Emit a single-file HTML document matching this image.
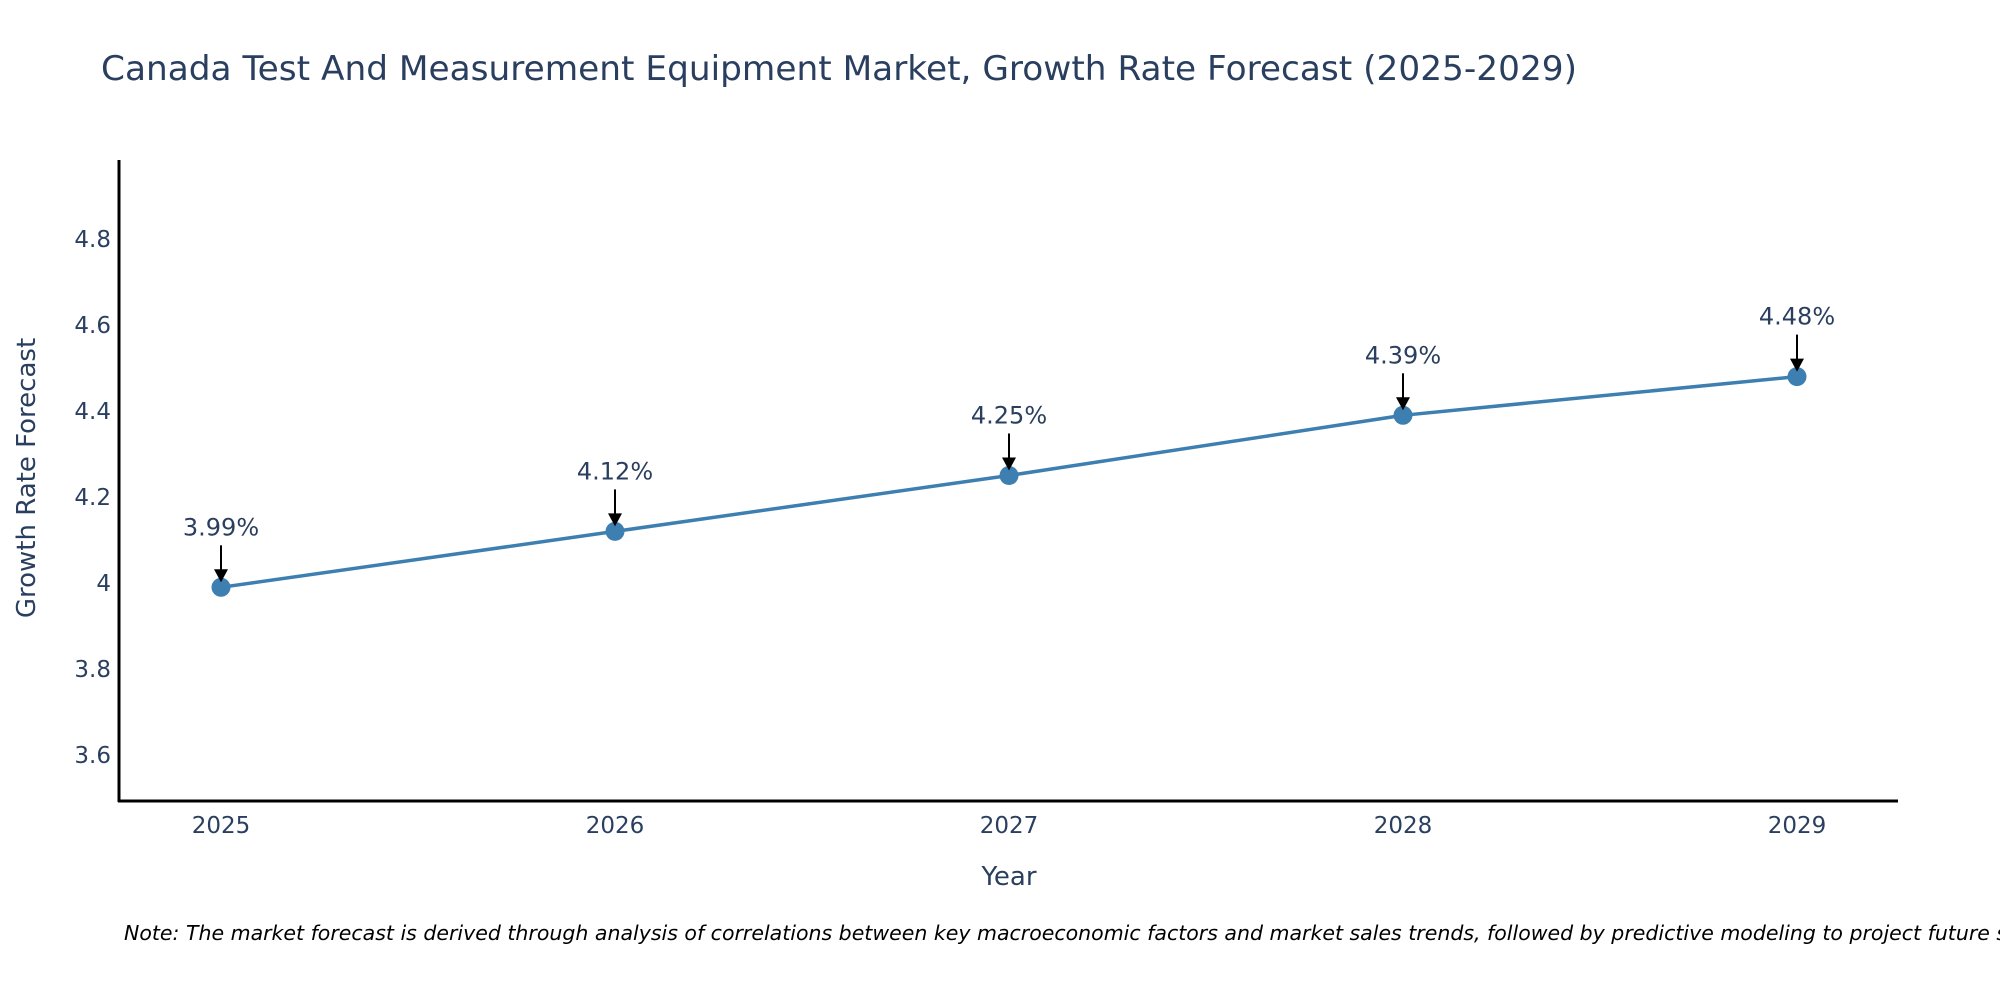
<!DOCTYPE html>
<html><head><meta charset="utf-8"><style>
html,body{margin:0;padding:0;background:#fff;}
svg{display:block;font-family:"DejaVu Sans","Liberation Sans",sans-serif;}
</style></head><body>
<svg id="chart" width="2000" height="1000" viewBox="0 0 2000 1000">
<text x="101" y="80" font-size="34" fill="#2a3f5f" textLength="1476" lengthAdjust="spacingAndGlyphs">Canada Test And Measurement Equipment Market, Growth Rate Forecast (2025-2029)</text>
<g id="yticks"></g>
<g id="xticks"></g>
<g id="series"></g>
<line x1="119" y1="160" x2="119" y2="802" stroke="#000" stroke-width="3"/>
<line x1="118" y1="801" x2="1898" y2="801" stroke="#000" stroke-width="3"/>
<text x="1009" y="885" font-size="26" fill="#2a3f5f" text-anchor="middle">Year</text>
<text transform="translate(35,478) rotate(-90)" font-size="26" fill="#2a3f5f" text-anchor="middle">Growth Rate Forecast</text>
<text x="124" y="940" font-size="20.5" font-style="italic" fill="#000">Note: The market forecast is derived through analysis of correlations between key macroeconomic factors and market sales trends, followed by predictive modeling to project future sales.</text>
</svg>
<script>
const years = [2025, 2026, 2027, 2028, 2029];
const growth = [3.99, 4.12, 4.25, 4.39, 4.48];
const yTickVals = [3.6, 3.8, 4, 4.2, 4.4, 4.6, 4.8];
const yTickLabels = ["3.6", "3.8", "4", "4.2", "4.4", "4.6", "4.8"];

const NS = "http://www.w3.org/2000/svg";
function xScale(yr){ return 221 + (yr - 2025) * (1797 - 221) / 4; }
function yScale(v){ return 583 - (v - 4) * 430; }
function mk(tag, attrs, parent){
  const e = document.createElementNS(NS, tag);
  for (const k in attrs) e.setAttribute(k, attrs[k]);
  parent.appendChild(e); return e;
}
const yt = document.getElementById('yticks');
yTickVals.forEach((v, i) => {
  const t = mk('text', {x:111, y:yScale(v)+8, 'font-size':23, fill:'#2a3f5f', 'text-anchor':'end'}, yt);
  
  
  t.textContent = yTickLabels[i];
});
const xt = document.getElementById('xticks');
years.forEach(yr => {
  const t = mk('text', {x:xScale(yr), y:833, 'font-size':23, fill:'#2a3f5f', 'text-anchor':'middle'}, xt);
  
  
  t.textContent = String(yr);
});
const s = document.getElementById('series');
const pts = years.map((yr, i) => xScale(yr) + ',' + yScale(growth[i])).join(' ');
const line = mk('polyline', {points:pts, fill:'none', stroke:'#3d7fb0', 'stroke-width':3.5}, s);


years.forEach((yr, i) => {
  const cx = xScale(yr), cy = yScale(growth[i]);
  const c = mk('circle', {cx:cx, cy:cy, r:9.5, fill:'#3d7fb0'}, s);
  
  
  const a = mk('line', {x1:cx, y1:cy-42, x2:cx, y2:cy-16, stroke:'#000', 'stroke-width':2}, s);
  
  
  const h = mk('polygon', {points:(cx-7)+','+(cy-18)+' '+(cx+7)+','+(cy-18)+' '+cx+','+(cy-5)}, s);
  h.setAttribute('fill', '#000');
  
  
  const t = mk('text', {x:cx, y:cy-52, 'font-size':24, fill:'#2a3f5f', 'text-anchor':'middle'}, s);
  
  
  t.textContent = growth[i].toFixed(2) + '%';
});
</script>
</body></html>
